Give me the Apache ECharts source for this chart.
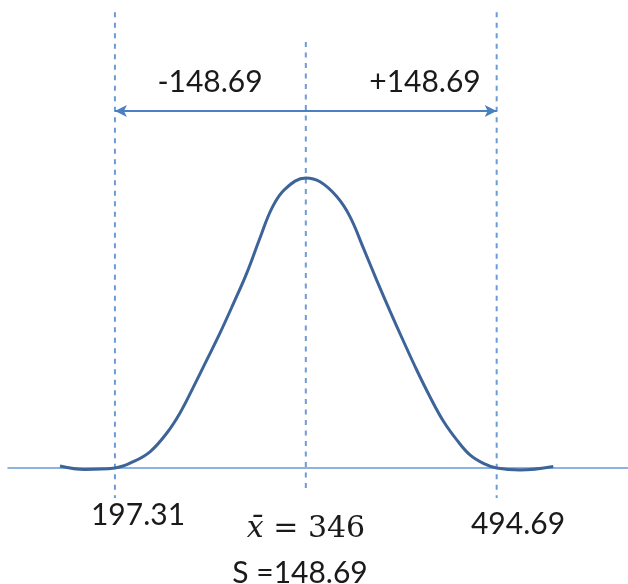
<!DOCTYPE html>
<html>
<head>
<meta charset="utf-8">
<script src="https://cdn.jsdelivr.net/npm/echarts@6/dist/echarts.min.js"></script>
<style>html,body{margin:0;padding:0;background:#fff}#c{width:628px;height:584px}</style>
</head>
<body>
<div id="c"></div>
<script>
// ---- data ----
const mean = 346;
const sd = 148.69;
const lower = 197.31;   // mean - sd
const upper = 494.69;   // mean + sd
// curve points: x value, relative height (peak = 100)
const curveX = [154.5, 174.0, 197.3, 211.6, 224.6, 237.6, 248.0, 258.4, 268.8, 279.2, 289.5, 300.0, 310.3, 319.7, 329.8, 346,
                357.1, 370.1, 380.4, 390.8, 401.2, 411.6, 422.0, 432.4, 442.8, 453.1, 463.6, 473.9, 484.3, 494.7, 512.9, 538.8];
const curveY = [0.7, -0.5, 0, 2.2, 5.6, 12.0, 19.0, 27.9, 37.2, 46.6, 56.6, 67.2, 79.3, 89.7, 96.2, 100,
                98.7, 93.6, 86.7, 75.9, 64.8, 54.1, 43.8, 33.8, 24.5, 16.2, 9.7, 4.5, 1.6, 0, -0.7, 0.5];
const guideX = [lower, mean, upper];
const labelLeft = '-' + sd.toFixed(2);
const labelRight = '+' + sd.toFixed(2);

const chart = echarts.init(document.getElementById('c'), null, {renderer: 'canvas'});
const dashColor = '#6b9bd6';
const dashStyle = {color: dashColor, width: 2, type: [5, 5.5]};

function vline(x, top, bottom) {
  return {
    type: 'line', data: [[x, top], [x, bottom]], symbol: 'none', silent: true,
    lineStyle: dashStyle, z: 1, animation: false
  };
}

const txt = '#1a1a1a';
const option = {
  animation: false,
  grid: {left: 8, right: 0, top: 0, bottom: 0},
  xAxis: {
    type: 'value', min: 114, max: 597,
    axisLine: {show: true, onZero: true, lineStyle: {color: '#6b9bd6', width: 1.5}},
    axisTick: {show: false}, axisLabel: {show: false}, splitLine: {show: false}
  },
  yAxis: {
    type: 'value', min: -40, max: 161.4, show: false,
    axisLine: {show: false}, splitLine: {show: false}
  },
  series: [
    vline(guideX[0], 157.2, -10.3),
    vline(guideX[1], 146.9, -7.9),
    vline(guideX[2], 157.2, -10.3),
    {
      type: 'line', data: curveX.map((x, i) => [x, curveY[i]]), symbol: 'none',
      smooth: 0.4, lineStyle: {color: '#3d6499', width: 3}, z: 3,
      markLine: {
        silent: true, symbol: ['arrow', 'arrow'], symbolSize: [9, 12],
        lineStyle: {color: '#4a7fc1', width: 2, type: 'solid'},
        label: {show: false},
        data: [[{coord: [lower, 123.1]}, {coord: [upper, 123.1]}]]
      }
    }
  ],
  graphic: [
    {type: 'text', x: 210, y: 82, style: {text: labelLeft, font: '30px Lato', fill: txt, align: 'center', verticalAlign: 'middle'}},
    {type: 'text', x: 425, y: 82, style: {text: labelRight, font: '30px Lato', fill: txt, align: 'center', verticalAlign: 'middle'}},
    {type: 'text', x: 138, y: 515, style: {text: lower.toFixed(2), font: '30px Lato', fill: txt, align: 'center', verticalAlign: 'middle'}},
    {type: 'text', x: 518, y: 524, style: {text: upper.toFixed(2), font: '30px Lato', fill: txt, align: 'center', verticalAlign: 'middle'}},
    {type: 'text', x: 306, y: 529, style: {
      text: '{i|x\u0304}{n| = ' + mean + '}', align: 'center', verticalAlign: 'middle',
      rich: {
        i: {fontFamily: 'DejaVu Serif', fontStyle: 'italic', fontSize: 30, fill: txt, color: txt},
        n: {fontFamily: 'DejaVu Serif', fontSize: 30, fill: txt, color: txt}
      }
    }},
    {type: 'text', x: 300, y: 573, style: {text: 'S =' + sd.toFixed(2), font: '30px Lato', fill: txt, align: 'center', verticalAlign: 'middle'}}
  ]
};
chart.setOption(option);
</script>
</body>
</html>
